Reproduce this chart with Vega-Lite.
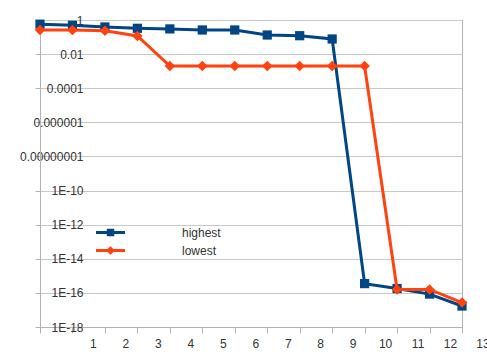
{
  "$schema": "https://vega.github.io/schema/vega-lite/v6.json",
  "width": 422,
  "height": 307,
  "autosize": "none",
  "padding": {"left": 40, "top": 20, "right": 25, "bottom": 27},
  "background": "white",
  "config": {
    "font": "Liberation Sans",
    "view": {"stroke": "#b3b3b3", "strokeWidth": 1},
    "axis": {"labelFont": "Liberation Sans", "labelFontSize": 12, "labelColor": "#333333", "domainColor": "#b3b3b3", "tickColor": "#b3b3b3", "gridColor": "#c8c8c8", "title": null},
    "legend": {"labelFont": "Liberation Sans", "labelFontSize": 12, "labelColor": "#333333"}
  },
  "data": {"values": [
    {"x": 0, "series": "highest", "v": 0.57},
    {"x": 1, "series": "highest", "v": 0.49},
    {"x": 2, "series": "highest", "v": 0.39},
    {"x": 3, "series": "highest", "v": 0.326},
    {"x": 4, "series": "highest", "v": 0.30},
    {"x": 5, "series": "highest", "v": 0.26},
    {"x": 6, "series": "highest", "v": 0.26},
    {"x": 7, "series": "highest", "v": 0.132},
    {"x": 8, "series": "highest", "v": 0.12},
    {"x": 9, "series": "highest", "v": 0.077},
    {"x": 10, "series": "highest", "v": 3.5e-16},
    {"x": 11, "series": "highest", "v": 1.8e-16},
    {"x": 12, "series": "highest", "v": 8.5e-17},
    {"x": 13, "series": "highest", "v": 1.7e-17},
    {"x": 0, "series": "lowest", "v": 0.26},
    {"x": 1, "series": "lowest", "v": 0.26},
    {"x": 2, "series": "lowest", "v": 0.235},
    {"x": 3, "series": "lowest", "v": 0.115},
    {"x": 4, "series": "lowest", "v": 0.002},
    {"x": 5, "series": "lowest", "v": 0.002},
    {"x": 6, "series": "lowest", "v": 0.002},
    {"x": 7, "series": "lowest", "v": 0.002},
    {"x": 8, "series": "lowest", "v": 0.002},
    {"x": 9, "series": "lowest", "v": 0.002},
    {"x": 10, "series": "lowest", "v": 0.002},
    {"x": 11, "series": "lowest", "v": 1.6e-16},
    {"x": 12, "series": "lowest", "v": 1.6e-16},
    {"x": 13, "series": "lowest", "v": 2.7e-17}
  ]},
  "encoding": {
    "x": {"field": "x", "type": "quantitative",
      "scale": {"domain": [0, 13], "nice": false, "zero": false},
      "axis": {"values": [0,1,2,3,4,5,6,7,8,9,10,11,12,13], "grid": false, "tickSize": 6, "labelPadding": 5, "labelOffset": 20.5, "labelFlush": false, "labelOverlap": false, "labelBound": false, "labelExpr": "datum.value == 0 ? '' : datum.label"}},
    "y": {"field": "v", "type": "quantitative",
      "scale": {"type": "log", "domain": [1e-18, 1], "nice": false},
      "axis": {"values": [1, 1e-2, 1e-4, 1e-6, 1e-8, 1e-10, 1e-12, 1e-14, 1e-16, 1e-18], "tickSize": 5, "labelPadding": -48, "labelAlign": "right", "labelBaseline": "middle", "labelOverlap": false, "labelFlush": false, "labelBound": false,
        "labelExpr": "datum.value >= 1e-9 ? format(datum.value, '.' + round(-log(datum.value)/LN10) + 'f') : '1E-' + round(-log(datum.value)/LN10)"}},
    "color": {"field": "series", "type": "nominal",
      "scale": {"domain": ["highest", "lowest"], "range": ["#004586", "#ff420e"]},
      "legend": {"title": null, "orient": "none", "legendX": 64, "legendY": 206, "padding": 0, "symbolSize": 100, "labelOffset": 65, "rowPadding": 1,
        "encode": {"symbols": {"update": {
          "shape": {"signal": "datum.value === 'highest' ? 'M-2.9,0H2.9M-0.45,-0.45H0.45V0.45H-0.45Z' : 'M-2.9,0H2.9M-0.45,0L0,-0.45L0.45,0L0,0.45Z'"},
          "fill": {"scale": "color", "field": "value"},
          "stroke": {"scale": "color", "field": "value"},
          "strokeWidth": {"value": 3},
          "size": {"value": 100},
          "opacity": {"value": 1}
        }}}}}
  },
  "layer": [
    {"transform": [{"filter": "datum.series === 'highest'"}], "mark": {"type": "line", "strokeWidth": 3}},
    {"transform": [{"filter": "datum.series === 'highest'"}], "mark": {"type": "point", "shape": "square", "filled": true, "size": 85, "opacity": 1}},
    {"transform": [{"filter": "datum.series === 'lowest'"}], "mark": {"type": "line", "strokeWidth": 3}},
    {"transform": [{"filter": "datum.series === 'lowest'"}], "mark": {"type": "point", "shape": "diamond", "filled": true, "size": 110, "opacity": 1}}
  ]
}
